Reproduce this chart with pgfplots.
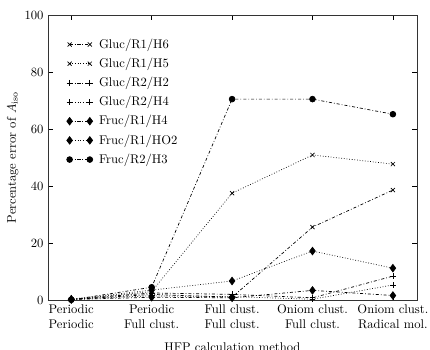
\documentclass[border=0pt]{standalone}
\usepackage{pgfplots}
\pgfplotsset{compat=1.18}
\usetikzlibrary{calc}

\pgfplotsset{
  dashdot/.style={line width=0.55pt, dash pattern=on 2.4pt off 1.6pt on 0.6pt off 1.6pt},
  dots/.style={line width=0.55pt, dash pattern=on 0.6pt off 1.5pt},
}

\begin{document}
\begin{tikzpicture}
\begin{axis}[
  name=ax,
  scale only axis,
  width=292.6pt, height=226pt,
  xmin=-0.29, xmax=4.3,
  ymin=0, ymax=100,
  xtick={0,1,2,3,4},
  xticklabels={{Periodic\\Periodic},{Periodic\\Full clust.},{Full clust.\\Full clust.},{Oniom clust.\\Full clust.},{Oniom clust.\\Radical mol.}},
  xticklabel style={align=center},
  ytick={0,20,40,60,80,100},
  ylabel={Percentage error of $A_{\mathrm{iso}}$},
  xlabel={HFP calculation method},
  ylabel style={yshift=-2pt},
  xlabel style={yshift=-4pt},
  tick style={black, thin},
  axis line style={black!80},
  legend cell align=left,
  legend style={draw=none, fill=none, at={(0.04,0.935)}, anchor=north west,
    row sep=2.2pt, font=\normalsize,
    /tikz/every odd column/.append style={column sep=3pt}},
  legend image code/.code={
    \draw[mark repeat=2, mark phase=1, #1] plot coordinates {(0pt,0pt) (8pt,0pt) (16pt,0pt)};
  },
]
\addplot[black, dashdot, mark=x, mark size=2.3pt, mark options={solid}] coordinates {
  (0,0.2) (1,2.0) (2,1.0) (3,25.6) (4,38.6)};
\addlegendentry{Gluc/R1/H6}
\addplot[black, dots, mark=x, mark size=2.3pt, mark options={solid}] coordinates {
  (0,0.2) (1,3.0) (2,37.5) (3,50.9) (4,47.7)};
\addlegendentry{Gluc/R1/H5}
\addplot[black, dashdot, mark=+, mark size=2.3pt, mark options={solid}] coordinates {
  (0,0.3) (1,2.5) (2,2.0) (3,0.8) (4,8.4)};
\addlegendentry{Gluc/R2/H2}
\addplot[black, dots, mark=+, mark size=2.3pt, mark options={solid}] coordinates {
  (0,0.3) (1,1.5) (2,1.2) (3,0.3) (4,5.3)};
\addlegendentry{Gluc/R2/H4}
\addplot[black, dashdot, mark=diamond*, mark size=3pt, mark options={solid}] coordinates {
  (0,0.2) (1,1.0) (2,0.8) (3,3.4) (4,1.6)};
\addlegendentry{Fruc/R1/H4}
\addplot[black, dots, mark=diamond*, mark size=3pt, mark options={solid}] coordinates {
  (0,0.3) (1,3.5) (2,6.7) (3,17.2) (4,11.2)};
\addlegendentry{Fruc/R1/HO2}
\addplot[black, dashdot, mark=*, mark size=2.3pt, mark options={solid}] coordinates {
  (0,0.1) (1,4.5) (2,70.5) (3,70.5) (4,65.2)};
\addlegendentry{Fruc/R2/H3}
\end{axis}
\pgfresetboundingbox
\useasboundingbox ($(ax.south west)+(-38pt,-38.9pt)$) rectangle ($(ax.north east)+(10.3pt,11.9pt)$);
\end{tikzpicture}
\end{document}
